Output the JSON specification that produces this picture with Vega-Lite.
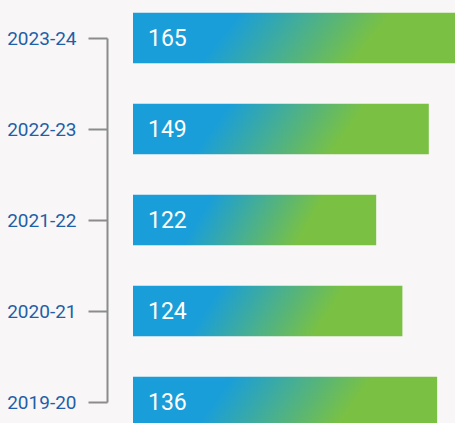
{
  "$schema": "https://vega.github.io/schema/vega-lite/v6.json",
  "width": 455,
  "height": 423,
  "autosize": "none",
  "padding": 0,
  "background": "#f8f6f6",
  "config": {"view": {"stroke": null}},
  "data": {"values": [
    {"year": "2023-24", "value": 165, "length": 165},
    {"year": "2022-23", "value": 149, "length": 149},
    {"year": "2021-22", "value": 122, "length": 122.5},
    {"year": "2020-21", "value": 124, "length": 135.7},
    {"year": "2019-20", "value": 136, "length": 153.2}
  ]},
  "encoding": {
    "y": {
      "field": "year",
      "type": "ordinal",
      "sort": null,
      "scale": {"type": "point", "range": [38, 402], "padding": 0},
      "axis": {
        "title": null,
        "offset": -107,
        "domainColor": "#8c8c8c",
        "domainWidth": 2,
        "tickColor": "#8c8c8c",
        "tickWidth": 2,
        "tickSize": 19,
        "labelPadding": 12,
        "labelFont": "Roboto",
        "labelFontSize": 19,
        "labelColor": "#1f5fa8",
        "labelBaseline": "middle"
      }
    }
  },
  "layer": [
    {
      "mark": {
        "type": "bar",
        "height": 50.5,
        "fill": {
          "gradient": "linear",
          "x1": 0, "y1": 0, "x2": 1, "y2": 0.12,
          "stops": [
            {"offset": 0.32, "color": "#199ed9"},
            {"offset": 0.78, "color": "#7ac143"}
          ]
        }
      },
      "encoding": {
        "x": {
          "field": "length",
          "type": "quantitative",
          "scale": {"domain": [0, 162.2], "range": [133, 455], "nice": false, "zero": true},
          "axis": null
        }
      }
    },
    {
      "mark": {
        "type": "text",
        "align": "left",
        "baseline": "middle",
        "dx": 15,
        "dy": 1,
        "font": "Roboto",
        "fontSize": 23,
        "color": "#ffffff"
      },
      "encoding": {
        "x": {"datum": 0, "type": "quantitative"},
        "text": {"field": "value", "type": "quantitative"}
      }
    }
  ]
}
